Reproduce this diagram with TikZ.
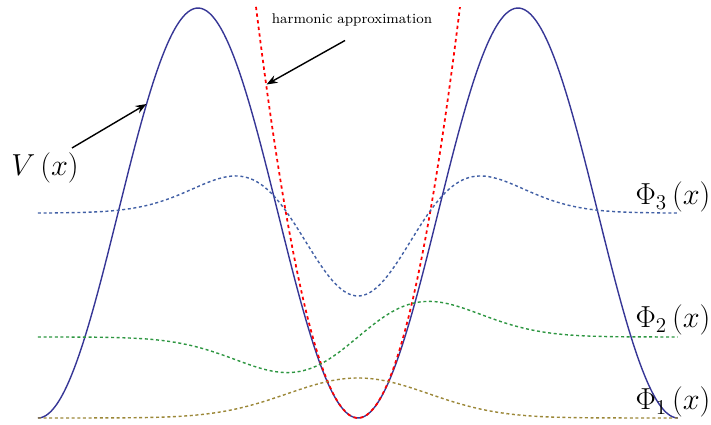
\documentclass[tikz,border=0pt]{standalone}
\usepackage{amsmath,amssymb}
\usepackage{tikz}
\usetikzlibrary{arrows.meta}
\usepackage{xcolor}
\definecolor{potblue}{RGB}{55,55,150}
\definecolor{phithree}{RGB}{65,95,165}
\definecolor{phitwo}{RGB}{45,150,65}
\definecolor{phione}{RGB}{155,135,55}

\begin{document}
\begin{tikzpicture}[>={Stealth[length=2.2mm]},
  wave/.style={line width=0.8pt,dash pattern=on 1.7pt off 1.5pt},
  lab/.style={font=\LARGE}]
\useasboundingbox (-7.16,-0.14) rectangle (7.06,8.36);
% potential and its harmonic approximation
\draw[potblue,line width=0.8pt] plot[domain=-6.4:6.4,samples=240,smooth] (\x,{8.2*(sin(28.125*\x))^2});
\draw[red,line width=1pt,dash pattern=on 1.9pt off 1.9pt] plot[domain=-2.04:2.04,samples=80,smooth] (\x,{1.976*\x*\x});
% wave functions
\draw[wave,phithree] plot[domain=-6.4:6.4,samples=160,smooth] (\x,{4.1+1.66*(0.5*\x*\x-1)*exp(-\x*\x/4)});
\draw[wave,phitwo] plot[domain=-6.4:6.4,samples=160,smooth] (\x,{1.62+0.83*\x*exp(-\x*\x/4)});
\draw[wave,phione] plot[domain=-6.4:6.4,samples=160,smooth] (\x,{0.8*exp(-\x*\x/4)});
% labels
\node[lab] (V) at (-6.26,5.0) {$V\left(x\right)$};
\node[lab] (P3) at (6.3,4.42) {$\Phi_3\left(x\right)$};
\node[lab] (P2) at (6.3,1.96) {$\Phi_2\left(x\right)$};
\node[lab] (P1) at (6.3,0.32) {$\Phi_1\left(x\right)$};
\node[font=\footnotesize] (harm) at (-0.12,7.96) {harmonic approximation};
\coordinate (vtail) at (-5.72,5.4);
\coordinate (vtip) at (-4.23,6.28);
\coordinate (htail) at (-0.26,7.55);
\coordinate (htip) at (-1.83,6.67);
\draw[->,line width=0.8pt] (vtail) -- (vtip);
\draw[->,line width=0.8pt] (htail) -- (htip);
\end{tikzpicture}
\end{document}
